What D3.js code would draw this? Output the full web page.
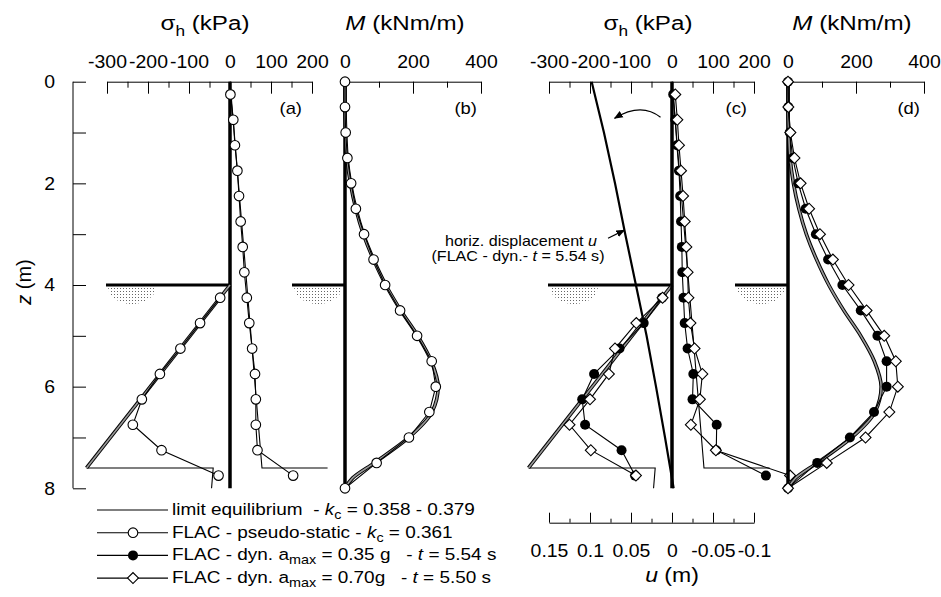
<!DOCTYPE html>
<html>
<head>
<meta charset="utf-8">
<script src="https://cdn.jsdelivr.net/npm/d3@7"></script>
<style>
body{margin:0;background:#fff;}
svg{font-family:Arial,"Liberation Sans",sans-serif;}
</style>
</head>
<body>
<div id="chart"></div>
<script>
// ---- data ----
var zTicks = [0,1,2,3,4,5,6,7,8];
var zLabels = [0,2,4,6,8];
var sigmaMajor = [-300,-200,-100,0,100,200];
var sigmaMinor = [-250,-150,-50,50,150];
var mMajor = [0,200,400];
var mMinor = [100,300];
var uMajor = [0.15,0.1,0.05,0,-0.05,-0.1];
var uLabels = ["0.15","0.1","0.05","0","-0.05","-0.1"];
var uMinor = [0.125,0.075,0.025,-0.025,-0.075];

var excavation = 4; // m

// limit equilibrium earth pressures (kPa)
var leActiveZ = [0,7.6,7.6];
var leActive  = [0,78,238];
var leBandZ   = [4,7.6];
var leBand    = [0,-350];
var leToeZ    = [7.6,7.6,8];
var leToe     = [-350,-41,-45];
// limit equilibrium bending moment (kNm/m)
var leMZ = [0,0.5,1,1.5,2,2.5,3,3.5,4,4.5,5,5.5,6,6.5,7,7.5,7.8,8];
var leM  = [0,0,2,6,16,32,54,84,120,164,214,254,274,256,188,86,22,0];

// FLAC depths
var zAct  = [0.25,0.75,1.25,1.75,2.25,2.75,3.25,3.75,4.25,4.75,5.25,5.75,6.25,6.75,7.25,7.75];
var zPass = [4.25,4.75,5.25,5.75,6.25,6.75,7.25,7.75];
var zM    = [0,0.5,1,1.5,2,2.5,3,3.5,4,4.5,5,5.5,6,6.5,7,7.5,8];

// FLAC pseudo-static
var psActive  = [1,8,12,18,22,26,31,35,41,47,54,61,63,63,67,154];
var psPassive = [-24,-73,-121,-171,-215,-237,-167,-28];
var psM       = [0,0,2,7,18,32,56,84,118,162,212,255,267,248,188,93,0];

// FLAC dynamic amax = 0.35 g, t = 5.54 s
var d35Active  = [3,8,12,17,20,22,24,25,28,31,38,52,50,109,108,229];
var d35Passive = [-24,-69,-128,-190,-219,-212,-123,-90];
var d35M       = [0,1,5,14,30,52,82,118,160,214,263,290,290,253,182,86,0];

// FLAC dynamic amax = 0.70 g, t = 5.50 s
var d70Active  = [8,13,17,22,27,31,35,38,40,45,55,74,68,46,107,288];
var d70Passive = [-23,-87,-139,-154,-200,-250,-198,-88];
var d70M       = [0,1,7,19,37,62,94,132,178,231,283,317,323,298,228,114,0];

// horizontal displacement of the wall (m), FLAC dyn t = 5.54 s
var uZ   = [0,1,2,3,4,5,6,7,8];
var uVal = [0.098,0.083,0.0695,0.057,0.044,0.031,0.0195,0.0085,-0.002];

// ---- layout ----
var SX = 1.15;   // figure text is horizontally stretched
var SXT = 1.08;  // tick labels
var svg = d3.select("#chart").append("svg").attr("width",941).attr("height",597);

var y  = d3.scaleLinear().domain([0,8]).range([81.7,488.3]);
var xA = d3.scaleLinear().domain([-300,200]).range([107,312]);
var xB = d3.scaleLinear().domain([0,400]).range([345,481]);
var xC = d3.scaleLinear().domain([-300,200]).range([549,754]);
var xD = d3.scaleLinear().domain([0,400]).range([788,924]);
var xU = d3.scaleLinear().domain([0.15,-0.1]).range([549,754]);

var defs = svg.append("defs");
var pat = defs.append("pattern").attr("id","dots").attr("patternUnits","userSpaceOnUse")
    .attr("width",3).attr("height",3);
pat.append("rect").attr("x",0).attr("y",0).attr("width",1).attr("height",1).attr("fill","#666");
defs.append("marker").attr("id","arr").attr("viewBox","0 0 10 10").attr("refX",9).attr("refY",5)
    .attr("markerWidth",9).attr("markerHeight",9).attr("orient","auto-start-reverse")
    .attr("markerUnits","userSpaceOnUse")
    .append("path").attr("d","M0,1 L10,5 L0,9 Z").attr("fill","#000");

function stretch(sel, sx){
    sel.attr("transform",function(){
        var t=d3.select(this), x=+t.attr("x")||0, yy=+t.attr("y")||0;
        return "translate("+x+","+yy+") scale("+(sx||SX)+",1) translate("+(-x)+","+(-yy)+")";
    });
}

// left z axis
var yAxis = d3.axisRight(y).tickValues(zTicks).tickSize(13).tickFormat("");
svg.append("g").attr("transform","translate(73,0)").call(yAxis)
    .call(g=>g.select(".domain").attr("d","M0,"+y(0)+"V"+y(8)))
    .selectAll("line").attr("stroke","#000");
svg.selectAll(".zlab").data(zLabels).enter().append("text")
    .attr("x",55).attr("y",d=>y(d)+6.5).attr("text-anchor","end")
    .attr("font-size",18).text(d=>d).call(s=>stretch(s,SXT));
var zt = svg.append("text").attr("transform","translate(31,282) rotate(-90)")
    .attr("text-anchor","middle").attr("font-size",20);
zt.append("tspan").attr("font-style","italic").text("z");
zt.append("tspan").text(" (m)");

// top axes
function topAxis(x, major, minor){
    var g = svg.append("g").attr("transform","translate(0,81.7)");
    g.call(d3.axisTop(x).tickValues(minor).tickSizeInner(-6).tickSizeOuter(0).tickFormat(""));
    g.append("g").call(d3.axisTop(x).tickValues(major).tickSizeInner(-12).tickSizeOuter(0)
            .tickPadding(14).tickFormat(d=>String(d)))
        .call(a=>a.select(".domain").remove())
        .selectAll("text").attr("font-size",18).attr("font-family",null).attr("fill","#000")
        .attr("transform","scale("+SXT+",1)");
    g.selectAll("line,path").attr("stroke","#000");
    g.attr("font-family",null);
}
topAxis(xA, sigmaMajor, sigmaMinor);
topAxis(xB, mMajor, mMinor);
topAxis(xC, sigmaMajor, sigmaMinor);
topAxis(xD, mMajor, mMinor);

function title(cx, kind){
    var t = svg.append("text").attr("x",cx).attr("y",30).attr("text-anchor","middle")
        .attr("font-size",21).style("white-space","pre");
    if(kind=="s"){
        t.append("tspan").text("σ");
        t.append("tspan").attr("dy",6).attr("font-size",15).text("h");
        t.append("tspan").attr("dy",-6).text(" (kPa)");
    } else {
        t.append("tspan").attr("font-style","italic").text("M");
        t.append("tspan").text(" (kNm/m)");
    }
    stretch(t);
}
title(205,"s"); title(405,"m"); title(648,"s"); title(852,"m");

[["(a)",xA.range()[1]-10],["(b)",xB.range()[1]-4],["(c)",xC.range()[1]-7],["(d)",xD.range()[1]-4]]
    .forEach(function(p){
        svg.append("text").attr("x",p[1]).attr("y",114).attr("text-anchor","end")
            .attr("font-size",16).text(p[0]).call(stretch);
    });

// ground at excavation level + wall
function ground(x0, x1){
    var yy = y(excavation);
    svg.append("path")
        .attr("d","M"+(x0+2)+","+(yy+2)+"L"+(x0+50)+","+(yy+2)+"A24,17 0 0 1 "+(x0+2)+","+(yy+2)+"Z")
        .attr("fill","url(#dots)");
    svg.append("line").attr("x1",x0).attr("x2",x1).attr("y1",yy).attr("y2",yy)
        .attr("stroke","#000").attr("stroke-width",3);
}
ground(xA.range()[0]-1, xA(0));
ground(xB(0)-53, xB(0));
ground(xC.range()[0]-1, xC(0));
ground(xD(0)-53, xD(0));

function wall(x){
    svg.append("line").attr("x1",x).attr("x2",x).attr("y1",y(0)).attr("y2",y(8))
        .attr("stroke","#000").attr("stroke-width",3.5);
}

// series helpers
function pts(x, zs, vs){ return zs.map((z,i)=>[x(vs[i]), y(z)]); }
var line = d3.line();
var smooth = d3.line().curve(d3.curveMonotoneY);

function thin(p, curve){
    svg.append("path").attr("d",(curve||line)(p)).attr("fill","none")
        .attr("stroke","#000").attr("stroke-width",1.1);
}
function band(p, curve){
    var c = curve||line;
    svg.append("path").attr("d",c(p)).attr("fill","none").attr("stroke","#000").attr("stroke-width",3.6);
    svg.append("path").attr("d",c(p)).attr("fill","none").attr("stroke","#999").attr("stroke-width",1.6);
}
function markers(p, sym){
    var g = svg.append("g");
    p.forEach(function(q){
        if(sym=="o") g.append("circle").attr("cx",q[0]).attr("cy",q[1]).attr("r",4.8)
            .attr("fill","#fff").attr("stroke","#000").attr("stroke-width",1.1);
        else if(sym=="f") g.append("circle").attr("cx",q[0]).attr("cy",q[1]).attr("r",5)
            .attr("fill","#000");
        else g.append("path").attr("d",d3.symbol(d3.symbolSquare,60)())
            .attr("transform","translate("+q[0]+","+q[1]+") rotate(45)")
            .attr("fill","#fff").attr("stroke","#000").attr("stroke-width",1.1);
    });
}
function series(p, sym){ thin(p); markers(p, sym); }

function limitSigma(x){
    thin(pts(x, leActiveZ, leActive));
    thin(pts(x, leToeZ, leToe));
    band(pts(x, leBandZ, leBand));
}

// (a)
wall(xA(0));
limitSigma(xA);
series(pts(xA, zAct, psActive), "o");
series(pts(xA, zPass, psPassive), "o");

// (b)
wall(xB(0));
band(pts(xB, leMZ, leM), smooth);
series(pts(xB, zM, psM), "o");

// (c)
limitSigma(xC);
svg.append("path").attr("d",line(uZ.map((z,i)=>[xU(uVal[i]), y(z)])))
    .attr("fill","none").attr("stroke","#000").attr("stroke-width",2.2);
wall(xC(0));
thin(pts(xC, zAct, d35Active)); thin(pts(xC, zPass, d35Passive));
thin(pts(xC, zAct, d70Active)); thin(pts(xC, zPass, d70Passive));
markers(pts(xC, zAct, d35Active), "f"); markers(pts(xC, zPass, d35Passive), "f");
markers(pts(xC, zAct, d70Active), "d"); markers(pts(xC, zPass, d70Passive), "d");

// (d)
wall(xD(0));
band(pts(xD, leMZ, leM), smooth);
thin(pts(xD, zM, d35M)); thin(pts(xD, zM, d70M));
markers(pts(xD, zM, d35M), "f");
markers(pts(xD, zM, d70M), "d");

// rotation arrow in (c)
svg.append("path")
    .attr("d","M"+xC(-28)+","+y(0.7)+" Q"+xC(-75)+","+y(0.4)+" "+xC(-140)+","+y(0.72))
    .attr("fill","none").attr("stroke","#000").attr("stroke-width",1.2).attr("marker-end","url(#arr)");
// annotation of u
svg.append("line").attr("x1",xU(0.078)).attr("y1",y(3.08)).attr("x2",xU(0.058)).attr("y2",y(2.92))
    .attr("stroke","#000").attr("stroke-width",1.2).attr("marker-end","url(#arr)");
var a1 = svg.append("text").attr("x",521).attr("y",246).attr("text-anchor","middle").attr("font-size",14);
a1.append("tspan").text("horiz. displacement ");
a1.append("tspan").attr("font-style","italic").text("u");
stretch(a1);
var a2 = svg.append("text").attr("x",518).attr("y",261).attr("text-anchor","middle").attr("font-size",14);
a2.append("tspan").text("(FLAC - dyn.- ");
a2.append("tspan").attr("font-style","italic").text("t");
a2.append("tspan").text(" = 5.54 s)");
stretch(a2);

// u axis (bottom of c)
var ug = svg.append("g").attr("transform","translate(0,522.7)");
ug.call(d3.axisBottom(xU).tickValues(uMinor).tickSizeInner(-4).tickSizeOuter(0).tickFormat(""));
ug.append("g").call(d3.axisBottom(xU).tickValues(uMajor).tickSizeInner(-10).tickSizeOuter(0)
        .tickPadding(22).tickFormat((d,i)=>uLabels[i]))
    .call(a=>a.select(".domain").remove())
    .selectAll("text").attr("font-size",18).attr("font-family",null).attr("fill","#000")
    .attr("transform","scale("+SXT+",1)");
ug.selectAll("line,path").attr("stroke","#000");
var ut = svg.append("text").attr("x",672).attr("y",582).attr("text-anchor","middle").attr("font-size",20);
ut.append("tspan").attr("font-style","italic").text("u");
ut.append("tspan").text(" (m)");
stretch(ut);

// legend
var legendRows = [
    {sym:"", parts:[["limit equilibrium  - ",""],["k","i"],["c","s"],[" = 0.358 - 0.379",""]]},
    {sym:"o", parts:[["FLAC - pseudo-static - ",""],["k","i"],["c","s"],[" = 0.361",""]]},
    {sym:"f", parts:[["FLAC - dyn. a",""],["max","s"],[" = 0.35 g   - ",""],["t","i"],[" = 5.54 s",""]]},
    {sym:"d", parts:[["FLAC - dyn. a",""],["max","s"],[" = 0.70g   - ",""],["t","i"],[" = 5.50 s",""]]}
];
legendRows.forEach(function(r,i){
    var by = 515 + i*22.7;
    svg.append("line").attr("x1",97).attr("x2",168).attr("y1",by-5).attr("y2",by-5)
        .attr("stroke","#000").attr("stroke-width",1.1);
    if(r.sym) markers([[133,by-5]], r.sym);
    var t = svg.append("text").attr("x",172).attr("y",by).attr("font-size",16.5).style("white-space","pre");
    var sub = false;
    r.parts.forEach(function(p){
        var ts = t.append("tspan").text(p[0]);
        if(p[1]=="i") ts.attr("font-style","italic");
        if(p[1]=="s"){ ts.attr("font-size",12.5).attr("dy",4); sub=true; }
        else if(sub){ ts.attr("dy",-4); sub=false; }
    });
    stretch(t);
});
</script>
</body>
</html>
